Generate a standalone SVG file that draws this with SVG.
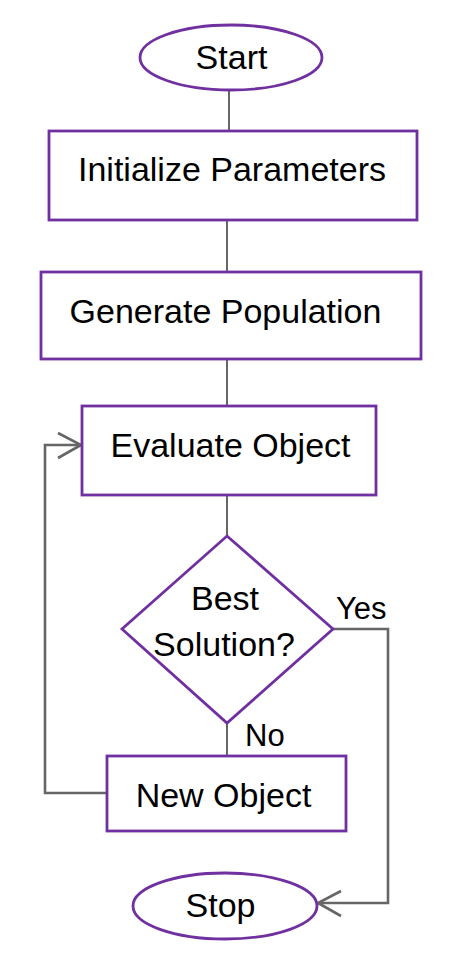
<svg xmlns="http://www.w3.org/2000/svg" width="461" height="967" viewBox="0 0 461 967">
<style>
.shape{fill:#fff;stroke:#7030A0;stroke-width:2.8}
.t{font-family:"Liberation Sans",Arial,sans-serif;font-size:34px;fill:#000;text-anchor:middle}
.lbl{font-family:"Liberation Sans",Arial,sans-serif;font-size:31px;fill:#000}
.thin{stroke:#000;stroke-width:1.2;fill:none}
.loop{stroke:#666;stroke-width:2.6;fill:none}
</style>
<rect width="461" height="967" fill="#fff"/>
<g id="connectors">
<line class="thin" x1="229" y1="90" x2="229" y2="131"/>
<line class="thin" x1="227" y1="220" x2="227" y2="272"/>
<line class="thin" x1="227" y1="359" x2="227" y2="406"/>
<line class="thin" x1="227" y1="495" x2="227" y2="536"/>
<line class="thin" x1="227" y1="723" x2="227" y2="756"/>
<polyline class="loop" points="333,629 388,629 388,903 318,903"/>
<polyline class="loop" points="341,891 318,903 341,916"/>
<polyline class="loop" points="107,793 45,793 45,445 81,445"/>
<polyline class="loop" points="58,433 81,445 58,458"/>
</g>
<g id="start">
<ellipse class="shape" cx="231" cy="57.5" rx="91" ry="32.5"/>
<text class="t" x="231.5" y="69">Start</text>
</g>
<g id="init">
<rect class="shape" x="49" y="131" width="368" height="89"/>
<text class="t" x="232" y="181">Initialize Parameters</text>
</g>
<g id="generate">
<rect class="shape" x="41" y="272" width="380" height="87"/>
<text class="t" x="225.5" y="323">Generate Population</text>
</g>
<g id="evaluate">
<rect class="shape" x="82" y="406" width="294" height="89"/>
<text class="t" x="230.5" y="457">Evaluate Object</text>
</g>
<g id="decision">
<polygon class="shape" points="227,536 333,629 227,723 122,629"/>
<text class="t" x="225" y="610">Best</text>
<text class="t" x="224" y="656">Solution?</text>
</g>
<g id="labels">
<text class="lbl" x="336" y="619">Yes</text>
<text class="lbl" x="245" y="746">No</text>
</g>
<g id="newobject">
<rect class="shape" x="107" y="756" width="239" height="75"/>
<text class="t" x="223.5" y="807">New Object</text>
</g>
<g id="stop">
<ellipse class="shape" cx="225" cy="906" rx="92" ry="33"/>
<text class="t" x="220.5" y="917">Stop</text>
</g>
</svg>
